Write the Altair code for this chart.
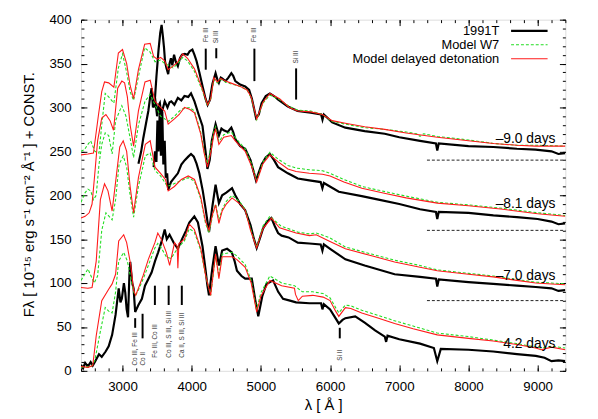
import altair as alt
import pandas as pd

# ---------------- data ----------------
EPOCHS = ["–9.0 days", "–8.1 days", "–7.0 days", "4.2 days"]
SERIES = ["1991T", "Model W7", "Model delayed detonation"]

# (wavelength [A], flux + const)
obs_m90 = [(3460,300),(3490,335),(3520,365),(3545,385),(3565,394),(3585,380),(3600,368),(3615,352),(3635,345),(3660,338),(3680,350),(3700,356),(3720,348),(3745,360),(3770,352),(3800,347),(3830,356),(3860,360),(3900,361),(3940,360),(3970,364),(4010,366),(4040,360),(4070,353),(4110,340),(4160,323),(4200,310),(4230,303),(4260,308),(4300,327),(4345,339),(4370,332),(4393,328),(4420,334),(4440,333),(4487,330),(4530,334),(4573,339),(4600,336),(4630,330),(4700,326),(4773,324),(4830,320),(4870,310),(4930,288),(4970,292),(5010,305),(5070,313),(5130,316),(5190,313),(5250,309),(5390,301),(5530,296),(5720,294),(5870,292),(5890,286),(5910,292),(6030,283),(6220,277),(6500,273),(6790,270),(7000,266),(7300,262),(7530,259),(7549,251),(7570,259),(8000,256),(8360,255),(8700,253),(8970,252),(9200,250),(9300,247),(9400,248)]
w7_m90 = [(2400,250),(2450,252),(2500,258),(2540,262),(2600,250),(2660,248),(2700,280),(2750,316),(2800,312),(2875,305),(2940,345),(3000,361),(3060,340),(3110,318),(3160,308),(3230,335),(3320,368),(3400,363),(3470,352),(3550,354),(3610,350),(3660,348),(3730,345),(3800,350),(3870,357),(3940,353),(4040,341),(4150,320),(4230,302),(4275,309),(4320,332),(4370,328),(4420,332),(4490,329),(4560,327),(4700,324),(4800,320),(4860,311),(4940,286),(5030,305),(5130,314),(5270,309),(5410,301),(5530,297),(5720,296),(5890,292),(6030,284),(6220,281),(6500,277),(6790,275),(7100,272),(7250,270),(7300,267),(7350,270),(7550,267),(8000,263),(8360,259),(8700,257),(8970,257),(9400,256)]
dd_m90 = [(2400,246),(2500,247),(2580,248),(2650,290),(2700,318),(2740,329),(2800,328),(2875,323),(2940,362),(3000,366),(3060,350),(3110,325),(3160,310),(3230,343),(3320,372),(3400,373),(3450,358),(3500,355),(3550,357),(3610,353),(3660,343),(3730,347),(3800,352),(3870,361),(3940,356),(4040,344),(4150,322),(4230,303),(4275,310),(4320,334),(4370,329),(4420,333),(4490,330),(4560,328),(4700,324),(4800,320),(4860,312),(4940,287),(5030,306),(5130,316),(5270,310),(5410,300),(5530,296),(5720,295),(5890,292),(6030,285),(6220,282),(6500,278),(6790,275),(7100,271),(7550,266),(8000,262),(8360,259),(8700,257),(8970,256),(9400,256)]

obs_m81 = [(3230,236),(3270,250),(3300,265),(3340,282),(3373,296),(3400,312),(3420,322),(3440,300),(3470,311),(3500,290),(3520,302),(3540,305),(3560,292),(3580,298),(3610,307),(3650,300),(3680,306),(3705,307),(3750,303),(3800,311),(3850,308),(3895,313),(3950,312),(3990,316),(4040,307),(4100,292),(4156,279),(4200,250),(4227,230),(4260,240),(4290,262),(4345,281),(4393,268),(4430,276),(4463,274),(4520,272),(4573,277),(4600,272),(4630,264),(4700,256),(4773,253),(4850,240),(4929,217),(5010,235),(5070,243),(5129,247),(5190,240),(5248,232),(5390,225),(5533,219),(5700,217),(5864,215),(5889,208),(5910,214),(6126,204),(6458,199),(6700,195),(7000,190),(7300,184),(7530,181),(7549,173),(7570,181),(8000,180),(8360,177),(8700,175),(9000,173),(9200,170),(9300,167),(9400,168)]
w7_m81 = [(2400,192),(2460,203),(2500,207),(2540,205),(2580,195),(2620,200),(2660,235),(2700,258),(2750,271),(2800,268),(2850,247),(2900,285),(2990,302),(3050,290),(3110,265),(3160,243),(3230,280),(3325,307),(3400,315),(3470,303),(3550,290),(3610,287),(3660,284),(3750,290),(3850,298),(3966,300),(4040,296),(4130,272),(4180,250),(4227,236),(4280,255),(4322,273),(4345,278),(4393,261),(4463,269),(4573,272),(4630,266),(4700,259),(4773,253),(4870,235),(4939,217),(5030,238),(5130,249),(5250,241),(5390,234),(5509,231),(5700,229),(5889,228),(6000,225),(6200,218),(6460,210),(6800,204),(7100,199),(7550,192),(8000,189),(8500,185),(9000,180),(9400,177)]
dd_m81 = [(2400,174),(2460,176),(2518,180),(2560,190),(2600,225),(2640,262),(2700,288),(2760,292),(2820,285),(2870,274),(2930,322),(2990,330),(3030,328),(3070,312),(3110,280),(3160,256),(3230,296),(3325,329),(3400,331),(3470,307),(3550,300),(3610,296),(3660,281),(3750,287),(3820,292),(3895,300),(3970,298),(4040,294),(4130,270),(4180,248),(4227,232),(4280,250),(4322,270),(4345,275),(4393,258),(4463,266),(4573,268),(4630,262),(4700,256),(4773,250),(4870,232),(4939,215),(5030,236),(5130,246),(5250,238),(5390,230),(5509,227),(5700,225),(5890,224),(6000,222),(6200,215),(6460,208),(6800,202),(7100,197),(7550,191),(8000,188),(8500,184),(9000,179),(9400,176)]

obs_m70 = [(3450,232),(3470,250),(3490,238),(3505,285),(3520,250),(3540,300),(3555,245),(3575,295),(3590,235),(3610,262),(3625,220),(3645,225),(3660,206),(3700,215),(3750,220),(3800,225),(3850,235),(3900,240),(3950,244),(3990,247),(4030,244),(4070,236),(4110,225),(4160,205),(4200,185),(4250,158),(4300,188),(4345,212),(4393,191),(4440,200),(4500,203),(4583,208),(4630,200),(4700,190),(4773,183),(4850,166),(4900,150),(4939,140),(4990,152),(5030,162),(5090,170),(5152,174),(5200,165),(5248,157),(5300,154),(5400,152),(5533,146),(5700,145),(5864,144),(5889,137),(5910,144),(6000,139),(6221,127),(6500,120),(6933,110),(7300,107),(7530,105),(7549,96),(7570,104),(8000,101),(8357,99),(8700,97),(8973,95.5),(9200,94),(9300,91),(9400,92)]
w7_m70 = [(2400,103),(2500,116),(2590,100),(2640,108),(2700,160),(2760,180),(2850,172),(2900,195),(2950,235),(3010,245),(3060,232),(3110,200),(3160,175),(3230,210),(3330,245),(3400,248),(3470,228),(3550,222),(3650,210),(3800,215),(3950,220),(4040,216),(4130,196),(4200,168),(4250,157),(4300,176),(4345,190),(4393,172),(4440,184),(4500,193),(4583,200),(4700,192),(4773,184),(4850,162),(4939,141),(5030,165),(5129,176),(5290,165),(5533,158),(5700,156),(5800,157),(5983,152),(6221,141),(6600,133),(6933,126),(7300,120),(7549,115),(8000,111),(8357,108),(8700,104),(8973,101),(9200,100),(9400,99)]
dd_m70 = [(2400,95),(2500,94),(2560,95),(2620,125),(2680,195),(2740,213),(2790,205),(2850,182),(2900,215),(2960,255),(3010,262),(3060,250),(3110,210),(3160,180),(3230,220),(3330,258),(3400,262),(3470,232),(3550,225),(3620,218),(3660,205),(3750,210),(3850,218),(3950,222),(4040,218),(4130,198),(4200,170),(4250,160),(4300,178),(4345,189),(4393,168),(4440,182),(4500,190),(4583,197),(4700,190),(4773,183),(4850,160),(4939,140),(5030,162),(5152,174),(5270,163),(5509,157),(5700,154),(5800,155),(5983,148),(6221,139),(6600,131),(6933,124),(7300,118),(7549,114),(8000,110),(8357,107),(8700,103),(8973,100),(9200,99),(9400,98)]

obs_p42 = [(2400,7),(2430,3),(2460,9),(2500,5),(2540,10),(2570,6),(2600,10),(2660,19),(2700,16),(2756,22),(2800,28),(2850,41),(2900,64),(2945,94),(2970,78),(2990,82),(3020,100),(3040,89),(3060,70),(3080,61),(3100,110),(3112,124),(3140,100),(3160,94),(3183,67),(3230,75),(3280,82),(3325,97),(3370,104),(3420,112),(3470,125),(3515,135),(3560,146),(3610,161),(3640,150),(3680,155),(3740,146),(3800,139),(3860,150),(3920,160),(3966,169),(4038,176),(4090,169),(4156,142),(4200,115),(4227,97),(4250,86),(4300,118),(4345,142),(4393,120),(4440,137),(4512,139),(4580,135),(4620,125),(4654,114),(4720,108),(4773,105),(4868,105),(4920,80),(4962,62),(5020,85),(5081,99),(5176,103),(5250,90),(5320,82),(5420,80),(5508,78),(5700,77),(5870,77),(5889,70),(5910,76),(6000,70),(6126,54),(6180,58),(6221,60),(6363,62),(6500,55),(6650,46),(6790,39),(6810,33),(6830,40),(7000,36),(7300,31),(7500,26),(7549,11),(7600,25),(8000,24),(8357,22),(8700,19),(8973,17),(9100,15),(9200,11),(9300,12),(9400,11)]
w7_p42 = [(2400,4),(2550,5),(2600,12),(2680,45),(2750,72),(2800,68),(2850,66),(2900,90),(2945,125),(3017,135),(3070,125),(3160,90),(3190,86),(3230,92),(3300,105),(3373,120),(3468,140),(3510,145),(3560,140),(3633,130),(3700,128),(3800,140),(3895,148),(3966,162),(4038,158),(4132,137),(4203,108),(4274,86),(4345,132),(4393,108),(4440,133),(4583,135),(4650,131),(4773,121),(4860,103),(4939,70),(5000,89),(5129,108),(5300,100),(5485,97),(5600,90),(5750,90),(5900,88),(6000,83),(6080,72),(6126,66),(6221,75),(6300,74),(6458,69),(6700,63),(6933,57),(7200,51),(7549,43),(8000,39),(8357,35),(8700,31),(8973,27),(9050,26),(9200,28),(9400,26)]
dd_p42 = [(2400,5),(2500,4),(2570,6),(2620,40),(2700,80),(2800,93),(2850,99),(2900,110),(2945,148),(3017,155),(3060,146),(3120,120),(3160,92),(3190,86),(3230,94),(3300,109),(3373,127),(3468,146),(3510,157),(3560,150),(3633,135),(3681,120),(3752,146),(3790,142),(3800,117),(3815,145),(3895,150),(3966,167),(4038,161),(4132,139),(4203,108),(4274,86),(4345,133),(4393,105),(4440,130),(4583,130),(4650,127),(4773,118),(4860,100),(4939,67),(5000,85),(5129,103),(5300,97),(5485,94),(5500,87),(5540,80),(5600,85),(5750,86),(5900,84),(6000,80),(6080,68),(6126,62),(6221,72),(6300,71),(6458,66),(6700,60),(6933,54),(7200,48),(7549,41),(8000,37),(8357,34),(8700,30),(8973,26),(9050,24),(9200,27),(9400,24)]

# zero levels of the shifted spectra (dashed lines)
baseline_levels = [240, 160, 80]
baseline_from, baseline_to = 7400, 9400

# epoch labels: wavelength of right edge, flux
epoch_label_wl = [9258, 9258, 9258, 9258]
epoch_label_flux = [259, 185, 104, 26]

# line identifications: wavelength, segment low/high, label, label start
ident_wl = [4203, 4355, 4906, 5509, 3183, 3290, 3468, 3667, 3857, 6140]
ident_lo = [343, 356, 330, 309, 49, 37, 75, 75, 75, 37]
ident_hi = [367, 367.5, 367, 344.5, 60, 65, 97, 97, 97, 49]
ident_text = ["Fe III", "Si III", "Fe III", "Si III", "Co III, Fe III", "Co II",
              "Fe III, Co III", "Co III, S III, Si III", "Ca II, S III, Si III", "Si II"]
ident_text_at = [374.5, 373, 374.5, 350, 6, 6, 15, 15, 15, 11.5]

# ---------------- tables ----------------
rows = []
for ep, ser, pts in [
    (EPOCHS[0], SERIES[0], obs_m90), (EPOCHS[0], SERIES[1], w7_m90), (EPOCHS[0], SERIES[2], dd_m90),
    (EPOCHS[1], SERIES[0], obs_m81), (EPOCHS[1], SERIES[1], w7_m81), (EPOCHS[1], SERIES[2], dd_m81),
    (EPOCHS[2], SERIES[0], obs_m70), (EPOCHS[2], SERIES[1], w7_m70), (EPOCHS[2], SERIES[2], dd_m70),
    (EPOCHS[3], SERIES[0], obs_p42), (EPOCHS[3], SERIES[1], w7_p42), (EPOCHS[3], SERIES[2], dd_p42),
]:
    for wl, fl in pts:
        rows.append({"wl": wl, "flux": fl, "epoch": ep, "series": ser})
spec = pd.DataFrame(rows)

base_df = pd.DataFrame({"x0": [baseline_from] * len(baseline_levels),
                        "x1": [baseline_to] * len(baseline_levels),
                        "level": baseline_levels})
lab_df = pd.DataFrame({"wl": epoch_label_wl, "flux": epoch_label_flux, "txt": EPOCHS})
ident_df = pd.DataFrame({"wl": ident_wl, "lo": ident_lo, "hi": ident_hi,
                         "txt": ident_text, "at": ident_text_at})

# ---------------- styling ----------------
W, H = 491, 356
FONT = "Liberation Sans"
BLACK, GREEN, RED = "#000000", "#22dd22", "#ff1a1a"

xs = alt.Scale(domain=[2400, 9400], nice=False, zero=False)
ys = alt.Scale(domain=[0, 400], nice=False, zero=False)

major_x = list(range(3000, 9001, 1000))
minor_x = list(range(2400, 9401, 200))
major_y = list(range(0, 401, 50))
minor_y = list(range(0, 401, 10))


def tick_axis(orient, values, size):
    return alt.Axis(orient=orient, values=values, offset=-size, tickSize=size,
                    ticks=True, labels=False, domain=False, grid=False, title=None,
                    tickColor="black", tickWidth=1)


x_label_axis = alt.Axis(orient="bottom", values=major_x, format="d", ticks=False,
                        tickSize=0, domain=False, grid=False, labelPadding=9,
                        labelFontSize=13.5, labelFont=FONT, labelColor="black",
                        title="λ [ Å ]", titleFont=FONT, titleFontSize=15,
                        titleFontWeight="normal", titleColor="black",
                        titleY=39, titleBaseline="alphabetic")
y_label_axis = alt.Axis(orient="left", values=major_y, format="d", ticks=False,
                        tickSize=0, domain=False, grid=False, labelPadding=10,
                        labelFontSize=13.5, labelFont=FONT, labelColor="black",
                        title="Fλ [ 10⁻¹⁵ erg s⁻¹ cm⁻² Å⁻¹ ] + CONST.",
                        titleFont=FONT, titleFontSize=15, titleFontWeight="normal",
                        titleColor="black", titleAngle=270, titleX=-48, titleY=177,
                        titleAlign="center", titleBaseline="alphabetic")

spec_base = alt.Chart(spec)

obs_layer = spec_base.transform_filter(alt.datum.series == SERIES[0]).mark_line(
    color=BLACK, strokeWidth=2.2, clip=True
).encode(
    x=alt.X("wl:Q", scale=xs, axis=x_label_axis),
    y=alt.Y("flux:Q", scale=ys, axis=y_label_axis),
    detail="epoch:N",
)

w7_layer = spec_base.transform_filter(alt.datum.series == SERIES[1]).mark_line(
    color=GREEN, strokeWidth=1.1, strokeDash=[3, 2], clip=True
).encode(
    x=alt.X("wl:Q", scale=xs, axis=tick_axis("bottom", major_x, 6)),
    y=alt.Y("flux:Q", scale=ys, axis=tick_axis("left", major_y, 6)),
    detail="epoch:N",
)

dd_layer = spec_base.transform_filter(alt.datum.series == SERIES[2]).mark_line(
    color=RED, strokeWidth=1.1, clip=True
).encode(
    x=alt.X("wl:Q", scale=xs, axis=tick_axis("top", major_x, 6)),
    y=alt.Y("flux:Q", scale=ys, axis=tick_axis("right", major_y, 6)),
    detail="epoch:N",
)

base_layer = alt.Chart(base_df).mark_rule(color="#222222", strokeWidth=1, strokeDash=[3, 2]).encode(
    x=alt.X("x0:Q", scale=xs, axis=tick_axis("bottom", minor_x, 3)),
    x2="x1:Q",
    y=alt.Y("level:Q", scale=ys, axis=tick_axis("left", minor_y, 3)),
)

ident_rules = alt.Chart(ident_df).mark_rule(color="black", strokeWidth=2).encode(
    x=alt.X("wl:Q", scale=xs, axis=tick_axis("top", minor_x, 3)),
    y=alt.Y("lo:Q", scale=ys, axis=tick_axis("right", minor_y, 3)),
    y2="hi:Q",
)

ident_labels = alt.Chart(ident_df).mark_text(
    angle=270, align="left", baseline="middle", fontSize=6.5, font=FONT, color="#333333"
).encode(
    x=alt.X("wl:Q", scale=xs, axis=None),
    y=alt.Y("at:Q", scale=ys, axis=None),
    text="txt:N",
)

epoch_labels = alt.Chart(lab_df).mark_text(
    align="right", baseline="alphabetic", fontSize=14, font=FONT, color="black"
).encode(
    x=alt.X("wl:Q", scale=xs, axis=None),
    y=alt.Y("flux:Q", scale=ys, axis=None),
    text="txt:N",
)

# legend (gnuplot style: text right-aligned, sample to its right)
one = pd.DataFrame({"k": [0]})
legend_layers = []
for i, (name, col, width, dash) in enumerate([
    (SERIES[0], BLACK, 2.2, None),
    (SERIES[1], GREEN, 1.1, [3, 2]),
    (SERIES[2], RED, 1.1, None),
]):
    ypix = 11.3 + 14.2 * i
    kw = dict(color=col, strokeWidth=width)
    if dash:
        kw["strokeDash"] = dash
    legend_layers.append(
        alt.Chart(one).mark_rule(**kw).encode(
            x=alt.value(436), x2=alt.value(473), y=alt.value(ypix))
    )
    legend_layers.append(
        alt.Chart(one).mark_text(align="right", baseline="middle", fontSize=13,
                                 font=FONT, color="black").encode(
            x=alt.value(424), y=alt.value(ypix), text=alt.value(name))
    )

chart = alt.layer(
    obs_layer, w7_layer, dd_layer, base_layer, ident_rules, ident_labels, epoch_labels,
    *legend_layers
).resolve_axis(
    x="independent", y="independent"
).properties(
    width=W, height=H,
    autosize=alt.AutoSizeParams(type="none"),
    padding={"left": 74, "top": 9, "right": 25, "bottom": 46},
).configure_view(
    stroke="black", strokeWidth=1.2
).configure(
    font=FONT, background="white"
)

chart.save("out.html", embed_options={"renderer": "svg", "actions": False})
